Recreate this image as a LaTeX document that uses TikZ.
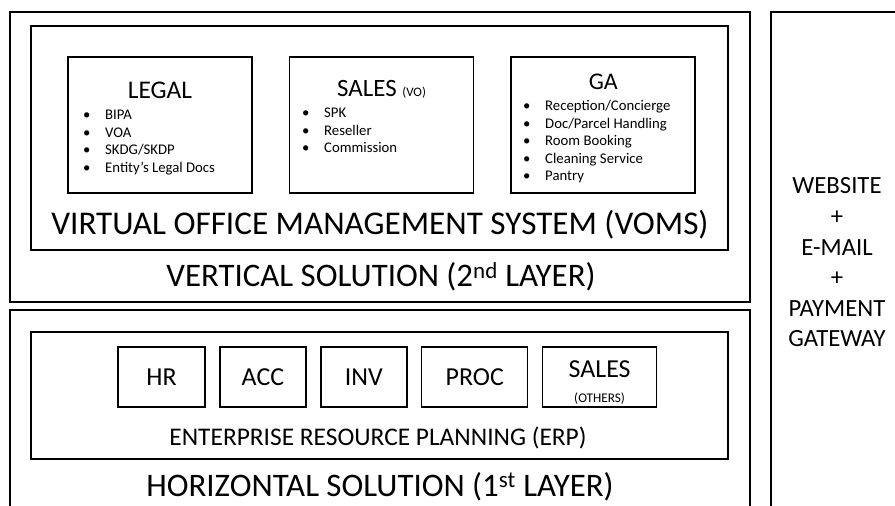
\documentclass[tikz,border=0pt]{standalone}
\usepackage{fontspec}
\setmainfont{Carlito}
\usetikzlibrary{positioning}

\tikzset{
  layerbox/.style={draw, line width=1.8bp, inner sep=0pt},
  sysbox/.style={draw, line width=1.6bp, inner sep=0pt},
  modbox/.style={draw, line width=1.4bp, inner sep=0pt, minimum height=60bp,
    font=\fontsize{26}{31}\selectfont},
  lbl/.style={anchor=base, inner sep=0pt},
  items/.style={anchor=base west, inner sep=0pt, font=\fontsize{14.8}{17.4}\selectfont},
}
\newcommand{\blist}[1]{\begin{tabular}[t]{@{}p{22bp}@{}l@{}}#1\end{tabular}}

\begin{document}
\begin{tikzpicture}[x=1bp, y=-1bp]
\useasboundingbox (0,0) rectangle (895,506);
\clip (0,0) rectangle (895,506);

% vertical solution (2nd layer)
\node[layerbox, minimum width=740bp, minimum height=290bp] (vert) at (380,157) {};
\node[sysbox, minimum width=697bp, minimum height=224bp] (voms) at (379.5,138) {};
\node[sysbox, minimum width=184bp, minimum height=136bp] (legal) at (160,125) {};
\node[sysbox, minimum width=184bp, minimum height=136bp, right=36bp of legal] (salesvo) {};
\node[sysbox, minimum width=184bp, minimum height=136bp, right=36bp of salesvo] (ga) {};

\node[lbl, font=\fontsize{25.5}{30}\selectfont] (legalt) at ([yshift=-42bp]legal.north) {LEGAL};
\node[lbl, font=\fontsize{25}{30}\selectfont] (salest) at ([yshift=-40bp]salesvo.north) {SALES {\fontsize{13}{15}\selectfont(VO)}};
\node[lbl, font=\fontsize{24}{30}\selectfont] (gat) at ([yshift=-33bp]ga.north) {GA};

\node[items] (legali) at (83,120) {\blist{\textbullet & BIPA\\ \textbullet & VOA\\ \textbullet & SKDG/SKDP\\ \textbullet & Entity’s Legal Docs}};
\node[items] (salesi) at (302,118) {\blist{\textbullet & SPK\\ \textbullet & Reseller\\ \textbullet & Commission}};
\node[items] (gai) at (523,111) {\blist{\textbullet & Reception/Concierge\\ \textbullet & Doc/Parcel Handling\\ \textbullet & Room Booking\\ \textbullet & Cleaning Service\\ \textbullet & Pantry}};

\node[lbl, font=\fontsize{33.3}{40}\selectfont] (vomst) at (380,235) {VIRTUAL OFFICE MANAGEMENT SYSTEM (VOMS)};
\node[lbl, font=\fontsize{33}{38}\selectfont] (vertt) at (381,287) {VERTICAL SOLUTION (2\textsuperscript{nd} LAYER)};

% horizontal solution (1st layer)
\node[layerbox, minimum width=740bp, minimum height=240bp] (horiz) at (380,430) {};
\node[sysbox, minimum width=697bp, minimum height=127bp] (erp) at (379.5,395.5) {};
\node[modbox, minimum width=87bp] (hr) at (161.5,377) {HR};
\node[modbox, minimum width=86bp, right=13.5bp of hr] (acc) {ACC};
\node[modbox, minimum width=86bp, right=13.5bp of acc] (inv) {INV};
\node[modbox, minimum width=106bp, right=13.5bp of inv] (proc) {PROC};
\node[modbox, minimum width=114bp, right=13.5bp of proc] (salesot) {};
\node[lbl, font=\fontsize{26}{31}\selectfont] (salesott) at ([yshift=-31bp]salesot.north)
  {\begin{tabular}[t]{@{}c@{}}SALES\\[-6bp]{\fontsize{13.3}{16}\selectfont(OTHERS)}\end{tabular}};

\node[lbl, font=\fontsize{25.5}{30}\selectfont] (erpt) at (378,445) {ENTERPRISE RESOURCE PLANNING (ERP)};
\node[lbl, font=\fontsize{33}{38}\selectfont] (horizt) at (380,496.7) {HORIZONTAL SOLUTION (1\textsuperscript{st} LAYER)};

% website + e-mail + payment gateway
\node[layerbox, minimum width=150bp, minimum height=530bp] (web) at (846,277) {};
\node[lbl, font=\fontsize{24.8}{30.7}\selectfont] (webt) at (837,194)
  {\begin{tabular}[t]{@{}c@{}}WEBSITE\\+\\E-MAIL\\+\\PAYMENT\\GATEWAY\end{tabular}};
\end{tikzpicture}
\end{document}
